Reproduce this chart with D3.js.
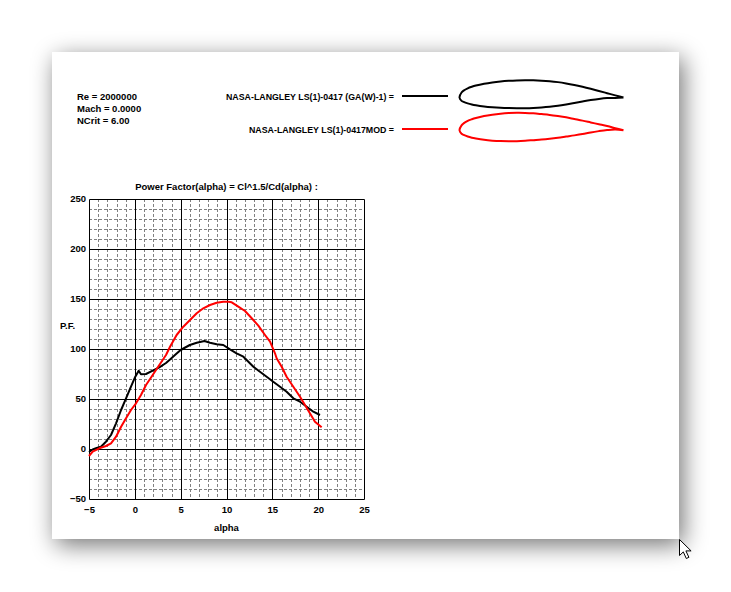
<!DOCTYPE html>
<html>
  <head>
    <meta charset="utf-8">
    <title>Power Factor</title>
    <style>
    body {
      margin: 0;
      background: #fff;
    }
    text {
      font-family: "Liberation Sans", Arial, sans-serif;
      font-weight: bold;
      font-size: 9.5px;
      fill: #000;
    }
    .minor {
      stroke: #808080;
      stroke-width: 1;
      stroke-dasharray: 3,2;
    }
    .major {
      stroke: #000;
      stroke-width: 1;
    }
    </style>
  </head>
  <body>
    <div id="chart"></div>
    <script src="https://d3js.org/d3.v7.min.js"></script>
    <script>

    // run info
    var infoLines = ['Re = 2000000', 'Mach = 0.0000', 'NCrit = 6.00']

    var seriesNames = ['NASA-LANGLEY LS(1)-0417 (GA(W)-1) =', 'NASA-LANGLEY LS(1)-0417MOD =']
    var seriesColors = ['#000000', '#ff0000']

    // power factor vs alpha
    var alphaBase = [-5, -4.6, -4.24, -3.7, -3.15, -2.6, -2.05, -1.5, -0.96, -0.42, 0.05, 0.42, 0.67, 1.22, 1.95,
                     2.67, 3.4, 3.9, 4.5, 5.0, 5.5, 6.0, 6.75, 7.6, 8.2, 8.93, 9.65, 10.38, 11.1, 11.84, 12.2,
                     12.93, 13.65, 14.38, 15.1, 15.84, 16.56, 17.29, 18.02, 18.75, 19.47, 20.2]
    var pfBase = [-3, -0.5, 0.7, 2.3, 7.3, 14, 25.7, 39, 50.7, 62.3, 72.3, 78.3, 74.7, 75, 78.3,
                  81.7, 86, 90, 95, 99, 101.5, 104, 106.3, 108, 106.3, 104.7, 104, 99.7, 95.7, 92.3, 89,
                  82.3, 77.3, 72.3, 67.3, 62.3, 57.3, 50.7, 47.3, 42.3, 37.3, 34]

    var alphaMod = [-5, -4.6, -3.87, -3.15, -2.6, -2.05, -1.5, -0.96, -0.42, 0.13, 0.67, 1.22, 1.95, 2.67,
                    3.4, 3.84, 4.56, 5.29, 6.02, 6.75, 7.47, 8.2, 8.93, 9.65, 10.2, 10.57, 11.29, 12.02,
                    12.75, 13.47, 14.2, 14.75, 15.29, 15.47, 16.02, 16.56, 17.29, 18.02, 18.56, 19.1, 19.65, 20.38]
    var pfMod = [-7, -2.7, 0.7, 3, 5.7, 12.3, 22.3, 30.7, 39, 45.7, 54, 64, 74, 84,
                 94, 102.3, 114, 122.3, 129, 135.7, 140.7, 144, 146.3, 147.3, 147.2, 146.7, 142.3, 138,
                 130.7, 123.3, 114, 107.3, 95.7, 90.7, 82.3, 72.3, 62.3, 52.3, 44, 35.7, 27.3, 21.7]

    var xTicks = [-5, 0, 5, 10, 15, 20, 25]
    var yTicks = [-50, 0, 50, 100, 150, 200, 250]

    // airfoil sections (x/c, y/c)
    var foilX = [0, 0.0125, 0.025, 0.05, 0.075, 0.1, 0.15, 0.2, 0.25, 0.3, 0.35, 0.4, 0.45, 0.5,
                 0.55, 0.6, 0.65, 0.7, 0.75, 0.8, 0.85, 0.9, 0.95, 1.0]
    var baseUpper = [0, 0.0307, 0.0417, 0.0560, 0.0656, 0.0731, 0.0841, 0.0921, 0.0978, 0.1017, 0.1041, 0.1050, 0.1046, 0.1027,
                     0.0992, 0.0937, 0.0860, 0.0764, 0.0652, 0.0529, 0.0398, 0.0264, 0.0129, 0.0]
    var baseLower = [0, -0.0205, -0.0269, -0.0357, -0.0421, -0.0470, -0.0543, -0.0593, -0.0627, -0.0645, -0.0652, -0.0648, -0.0634, -0.0609,
                     -0.0568, -0.0506, -0.0427, -0.0338, -0.0246, -0.0159, -0.0085, -0.0035, -0.0026, 0.0]
    var modUpper = [0, 0.0300, 0.0420, 0.0570, 0.0670, 0.0750, 0.0870, 0.0950, 0.1010, 0.1050, 0.1065, 0.1060, 0.1035, 0.0990,
                    0.0940, 0.0870, 0.0790, 0.0690, 0.0590, 0.0480, 0.0370, 0.0260, 0.0130, 0.0]
    var modLower = [0, -0.0210, -0.0280, -0.0380, -0.0450, -0.0500, -0.0580, -0.0630, -0.0660, -0.0670, -0.0665, -0.0640, -0.0600, -0.0560,
                    -0.0510, -0.0450, -0.0380, -0.0310, -0.0230, -0.0130, -0.0050, 0.0015, 0.0050, 0.0]

    var width = 731,
        height = 592

    var svg = d3.select('#chart')
          .append('svg')
          .attr('width', width)
          .attr('height', height)

    // page card with soft shadow
    var defs = svg.append('defs')
    var blur = defs.append('filter').attr('id', 'shadow')
        .attr('x', -0.2).attr('y', -0.2).attr('width', 1.4).attr('height', 1.4)
    blur.append('feGaussianBlur').attr('stdDeviation', 12)

    svg.append('rect')
        .attr('x', 56).attr('y', 58).attr('width', 627).attr('height', 487)
        .attr('fill', '#000').attr('opacity', 0.55)
        .attr('filter', 'url(#shadow)')
    svg.append('rect')
        .attr('x', 52).attr('y', 52).attr('width', 627).attr('height', 487)
        .attr('fill', '#fff')

    // header text
    svg.append('g').selectAll('text').data(infoLines)
      .enter().append('text')
        .attr('x', 77)
        .attr('y', function(d, i) { return 100 + i * 12 })
        .text(function(d) { return d })

    var legendY = [96, 129]
    var legendW = [168, 145]  // the labels are drawn a bit narrower in the original
    var legend = svg.append('g').selectAll('g').data(seriesNames)
      .enter().append('g')
    legend.append('text')
        .attr('x', 394)
        .attr('y', function(d, i) { return legendY[i] + 3.5 })
        .attr('text-anchor', 'end')
        .attr('textLength', function(d, i) { return legendW[i] })
        .attr('lengthAdjust', 'spacingAndGlyphs')
        .text(function(d) { return d })
    legend.append('line')
        .attr('x1', 402).attr('x2', 448)
        .attr('y1', function(d, i) { return legendY[i] })
        .attr('y2', function(d, i) { return legendY[i] })
        .attr('stroke', function(d, i) { return seriesColors[i] })
        .attr('stroke-width', 2)

    // airfoil outlines
    var fx = d3.scaleLinear().domain([0, 1]).range([459.5, 623.5])
    var foils = [[baseUpper, baseLower], [modUpper, modLower]]
    var foilChordY = [97.5, 130.3]
    foils.forEach(function(f, k) {
      var fy = d3.scaleLinear().domain([0, 1]).range([foilChordY[k], foilChordY[k] - 164])
      var pts = []
      for (var i = foilX.length - 1; i >= 0; i--) pts.push([foilX[i], f[0][i]])
      for (var j = 1; j < foilX.length; j++) pts.push([foilX[j], f[1][j]])
      var outline = d3.line()
          .x(function(d) { return fx(d[0]) })
          .y(function(d) { return fy(d[1]) })
          .curve(d3.curveCatmullRom)
      svg.append('path')
          .attr('d', outline(pts))
          .attr('fill', 'none')
          .attr('stroke', seriesColors[k])
          .attr('stroke-width', 2)
          .attr('stroke-linejoin', 'round')
    })

    // plot
    var x = d3.scaleLinear().domain([-5, 25]).range([89, 364])
    var y = d3.scaleLinear().domain([-50, 250]).range([499, 199])

    var plot = svg.append('g')

    plot.append('text')
        .attr('x', (x.range()[0] + x.range()[1]) / 2)
        .attr('y', 189.5)
        .attr('text-anchor', 'middle')
        .text('Power Factor(alpha) = Cl^1.5/Cd(alpha) :')

    var minorX = d3.range(-5, 26, 1).filter(function(v) { return v % 5 !== 0 })
    var minorY = d3.range(-50, 251, 10).filter(function(v) { return v % 50 !== 0 })

    plot.append('g').selectAll('line').data(minorX)
      .enter().append('line').attr('class', 'minor')
        .attr('x1', function(d) { return Math.round(x(d)) + 0.5 })
        .attr('x2', function(d) { return Math.round(x(d)) + 0.5 })
        .attr('y1', y(250)).attr('y2', y(-50))
    plot.append('g').selectAll('line').data(minorY)
      .enter().append('line').attr('class', 'minor')
        .attr('y1', function(d) { return Math.round(y(d)) + 0.5 })
        .attr('y2', function(d) { return Math.round(y(d)) + 0.5 })
        .attr('x1', x(-5)).attr('x2', x(25))

    plot.append('g').selectAll('line').data(xTicks)
      .enter().append('line').attr('class', 'major')
        .attr('x1', function(d) { return Math.round(x(d)) + 0.5 })
        .attr('x2', function(d) { return Math.round(x(d)) + 0.5 })
        .attr('y1', y(250) + 0.5).attr('y2', y(-50) + 0.5)
    plot.append('g').selectAll('line').data(yTicks)
      .enter().append('line').attr('class', 'major')
        .attr('y1', function(d) { return Math.round(y(d)) + 0.5 })
        .attr('y2', function(d) { return Math.round(y(d)) + 0.5 })
        .attr('x1', x(-5) + 0.5).attr('x2', x(25) + 0.5)

    // axes (labels only)
    var xAxis = plot.append('g')
        .attr('transform', 'translate(0,' + y(-50) + ')')
        .call(d3.axisBottom(x).tickValues(xTicks).tickSize(0).tickPadding(7))
    var yAxis = plot.append('g')
        .attr('transform', 'translate(' + x(-5) + ',0)')
        .call(d3.axisLeft(y).tickValues(yTicks).tickSize(0).tickPadding(3))
    xAxis.select('.domain').remove()
    yAxis.select('.domain').remove()
    plot.selectAll('.tick text')
        .attr('font-family', null).attr('font-size', null)
    yAxis.selectAll('.tick text').attr('dy', '0.25em')

    plot.append('text')
        .attr('x', (x.range()[0] + x.range()[1]) / 2)
        .attr('y', 530.5)
        .attr('text-anchor', 'middle')
        .text('alpha')
    plot.append('text')
        .attr('x', 60)
        .attr('y', 328.5)
        .text('P.F.')

    // curves
    var curve = d3.line()
        .x(function(d) { return x(d[0]) })
        .y(function(d) { return y(d[1]) })
    var series = [d3.zip(alphaBase, pfBase), d3.zip(alphaMod, pfMod)]
    plot.append('g').selectAll('path').data(series)
      .enter().append('path')
        .attr('d', curve)
        .attr('fill', 'none')
        .attr('stroke', function(d, i) { return seriesColors[i] })
        .attr('stroke-width', 2)
        .attr('stroke-linejoin', 'round')

    // mouse pointer left in the screenshot
    svg.append('path')
        .attr('d', 'M679.5,539.5 l0,16 l3.8,-3.6 l3,6.6 l2.6,-1.2 l-3,-6.4 l5.2,0 z')
        .attr('fill', '#fff')
        .attr('stroke', '#000')
        .attr('stroke-width', 1)

    </script>
  </body>
</html>
